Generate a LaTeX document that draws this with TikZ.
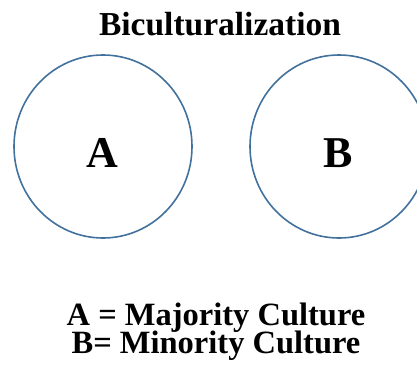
\documentclass[tikz,border=0pt]{standalone}
\usepackage{fontspec}
\setmainfont{Liberation Serif}
\newcommand{\legendfont}{\bfseries\fontsize{32.5}{28}\selectfont\lineskiplimit=-20pt\relax}
\begin{document}
\begin{tikzpicture}[x=1pt,y=-1pt,
  ringline/.style={draw=ringblue,line width=1.6pt},
  title/.style={font=\bfseries\fontsize{33.5}{38}\selectfont,anchor=base},
  letter/.style={font=\bfseries\fontsize{44}{50}\selectfont,anchor=base},
  legend/.style={font=\legendfont,anchor=base,align=center,inner sep=0pt}]
\definecolor{ringblue}{RGB}{65,113,156}
\useasboundingbox (0,0) rectangle (417,372);
\begin{scope}
\clip (0,0) rectangle (417,372);
\draw[ringline] (103,146.5) ellipse [x radius=89, y radius=91.5];
\draw[ringline] (339,146.5) ellipse [x radius=89, y radius=91.5];
\end{scope}
\node[title] (t) at (220,35) {Biculturalization};
\node[letter] (a) at (102,167) {A};
\node[letter] (b) at (338,167) {B};
\node[legend] (l) at (216,353) {A = Majority Culture\\B= Minority Culture};
\end{tikzpicture}
\end{document}
